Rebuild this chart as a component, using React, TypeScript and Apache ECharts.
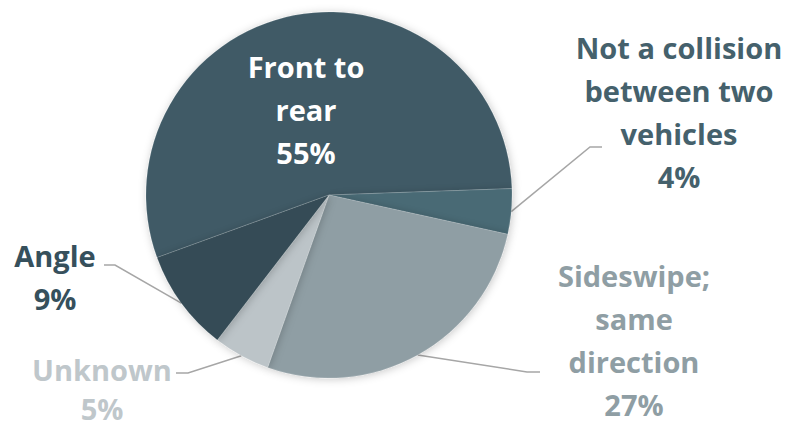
import React, { useEffect, useRef } from "react";
import * as echarts from "echarts";

const categories = [
  "Front to rear",
  "Not a collision between two vehicles",
  "Sideswipe; same direction",
  "Unknown",
  "Angle",
];
const labelLines = [
  "Front to\nrear",
  "Not a collision\nbetween two\nvehicles",
  "Sideswipe;\nsame\ndirection",
  "Unknown",
  "Angle",
];
const values = [55, 4, 27, 5, 9];
const sliceColors = ["#3f5a66", "#4a6a75", "#8f9ea4", "#bcc4c8", "#354c56"];
const textColors = ["#ffffff", "#45616c", "#8f9ea4", "#bfc7cb", "#36505c"];
const labelLineHeights = [43, 43, 43, 39, 43];

// label anchor (text block centre) and bend/end of leader lines
const labelAnchors: [number, number][] = [
  [306, 109],
  [679, 112],
  [634, 340],
  [102, 389],
  [55, 277],
];
const leaderBends: ([number, number][] | null)[] = [
  null,
  [[590, 147], [602, 147]],
  [[527, 372], [540, 372]],
  [[188, 373], [176, 373]],
  [[115, 265], [104, 265]],
];

export default function App() {
  const ref = useRef<HTMLDivElement>(null);
  useEffect(() => {
    if (!ref.current) return;
    const chart = echarts.init(ref.current, null, { renderer: "svg" });
    chart.setOption({
      animation: false,
      backgroundColor: "#ffffff",
      series: [
        {
          type: "pie",
          center: [329, 195],
          radius: 183,
          startAngle: 200,
          clockwise: true,
          avoidLabelOverlap: false,
          itemStyle: {
            borderColor: "rgba(255,255,255,0.25)",
            borderWidth: 0.5,
            shadowBlur: 8,
            shadowColor: "rgba(0,0,0,0.22)",
            shadowOffsetX: 1,
            shadowOffsetY: 1,
          },
          labelLine: {
            show: true,
            length: 20,
            length2: 10,
            lineStyle: { color: "#a6a6a6", width: 1.5 },
          },
          label: {
            show: true,
            position: "outside",
            fontFamily: "Open Sans",
            fontWeight: "bold",
            fontSize: 29,
            lineHeight: 43,
            align: "center",
          },
          labelLayout: (params: any) => {
            const i = params.dataIndex;
            const [x, y] = labelAnchors[i];
            const res: any = { x, y, align: "center", verticalAlign: "middle" };
            const bends = leaderBends[i];
            if (bends && params.labelLinePoints) {
              res.labelLinePoints = [params.labelLinePoints[0], bends[0], bends[1]];
            }
            return res;
          },
          data: categories.map((name, i) => ({
            name,
            value: values[i],
            itemStyle: { color: sliceColors[i] },
            label: {
              color: textColors[i],
              lineHeight: labelLineHeights[i],
              formatter: () => `${labelLines[i]}\n${values[i]}%`,
            },
            labelLine: { show: i !== 0 },
          })),
        },
      ],
    });
    return () => chart.dispose();
  }, []);
  return (
    <div
      ref={ref}
      style={{ position: "fixed", left: 0, top: 0, width: 788, height: 423 }}
    />
  );
}
